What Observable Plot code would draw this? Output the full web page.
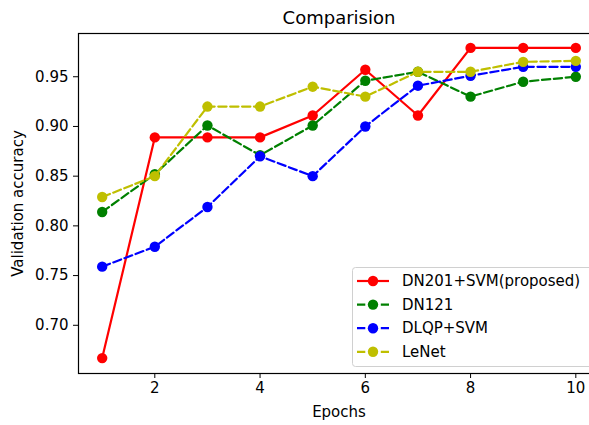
<!DOCTYPE html>
<html>
<head>
<meta charset="utf-8">
<script src="https://cdn.jsdelivr.net/npm/d3@7"></script>
<script src="https://cdn.jsdelivr.net/npm/@observablehq/plot@0.6"></script>
<style>
  html, body { margin: 0; padding: 0; background: #fff; overflow: hidden; }
  #wrap { position: relative; width: 589px; height: 425px; overflow: hidden; }
  #wrap svg { max-width: none !important; }
  #legend { position: absolute; left: 0; top: 0; }
</style>
</head>
<body>
<div id="wrap"></div>
<script>
// ---- data ----
const epochs = [1, 2, 3, 4, 5, 6, 7, 8, 9, 10];
const dn201svm = [0.667, 0.889, 0.889, 0.889, 0.911, 0.957, 0.911, 0.979, 0.979, 0.979];
const dn121 = [0.814, 0.852, 0.901, 0.871, 0.901, 0.946, 0.955, 0.930, 0.945, 0.950];
const dlqpsvm = [0.759, 0.779, 0.819, 0.870, 0.850, 0.900, 0.941, 0.951, 0.960, 0.960];
const lenet = [0.829, 0.850, 0.920, 0.920, 0.940, 0.930, 0.955, 0.955, 0.965, 0.966];
const seriesNames = ["DN201+SVM(proposed)", "DN121", "DLQP+SVM", "LeNet"];
const xTicks = [2, 4, 6, 8, 10];
const yTicks = [0.70, 0.75, 0.80, 0.85, 0.90, 0.95];
const titleText = "Comparision";
const xLabel = "Epochs";
const yLabel = "Validation accuracy";

// ---- styles ----
const styles = [
  {color: "#ff0000", dash: null},
  {color: "#008000", dash: "8.3,3.6"},
  {color: "#0000ff", dash: "8.3,3.6"},
  {color: "#bfbf00", dash: "8.3,3.6"}
];
const allValues = [dn201svm, dn121, dlqpsvm, lenet];
const series = seriesNames.map((name, k) => ({
  name,
  ...styles[k],
  rows: epochs.map((e, i) => ({epoch: e, acc: allValues[k][i]}))
}));

const W = 600, H = 425;
const mL = 78, mR = 1, mT = 33, mB = 52;

const marks = [];
for (const s of series) {
  marks.push(Plot.line(s.rows, {x: "epoch", y: "acc", stroke: s.color, strokeWidth: 2.2,
    strokeDasharray: s.dash || undefined}));
  marks.push(Plot.dot(s.rows, {x: "epoch", y: "acc", fill: s.color, r: 5.2}));
}
marks.push(Plot.frame({stroke: "#000", strokeWidth: 1.2}));
marks.push(Plot.axisX({ticks: xTicks, tickSize: 5, tickPadding: 4, label: null, fontSize: 15, stroke: "#000"}));
marks.push(Plot.axisY({ticks: yTicks, tickSize: 5, tickPadding: 5, label: null, fontSize: 15,
  tickFormat: d3.format(".2f"), stroke: "#000"}));
marks.push(Plot.text([titleText], {text: d => d, frameAnchor: "top", lineAnchor: "middle", textAnchor: "middle",
  dy: -15, fontSize: 18, fill: "#000"}));
marks.push(Plot.text([xLabel], {text: d => d, frameAnchor: "bottom", lineAnchor: "middle", textAnchor: "middle",
  dy: 39, fontSize: 15, fill: "#000"}));
marks.push(Plot.text([yLabel], {text: d => d, frameAnchor: "left", lineAnchor: "middle", textAnchor: "middle",
  dx: -60, rotate: -90, fontSize: 15, fill: "#000"}));

const chart = Plot.plot({
  width: W, height: H,
  marginLeft: mL, marginRight: mR, marginTop: mT, marginBottom: mB,
  x: {domain: [0.55, 10.45]},
  y: {domain: [0.6515, 0.9935]},
  style: {fontFamily: "DejaVu Sans", fontSize: "15px", color: "#000", background: "#fff", overflow: "visible", maxWidth: "none"},
  marks
});
chart.style.maxWidth = "none";
chart.style.width = W + "px";
chart.style.height = H + "px";
const wrap = document.getElementById("wrap");
wrap.appendChild(chart);

// ---- legend overlay ----
const lg = d3.select(wrap).append("svg").attr("id", "legend")
  .attr("width", 589).attr("height", 425)
  .style("font-family", "DejaVu Sans").style("font-size", "15px");
const bx = 352, by = 267, bw = 240, bh = 99;
lg.append("rect").attr("x", bx + 0.5).attr("y", by + 0.5).attr("width", bw).attr("height", bh)
  .attr("rx", 3).attr("fill", "rgba(255,255,255,0.8)").attr("stroke", "#d0d0d0");
series.forEach((s, i) => {
  const cy = 281 + i * 23.6;
  lg.append("line").attr("x1", 357).attr("x2", 389).attr("y1", cy).attr("y2", cy)
    .attr("stroke", s.color).attr("stroke-width", 2.2)
    .attr("stroke-dasharray", s.dash || null);
  lg.append("circle").attr("cx", 373).attr("cy", cy).attr("r", 5.2).attr("fill", s.color);
  lg.append("text").attr("x", 402).attr("y", cy).attr("dy", "0.35em").attr("fill", "#000").text(s.name);
});
</script>
</body>
</html>
